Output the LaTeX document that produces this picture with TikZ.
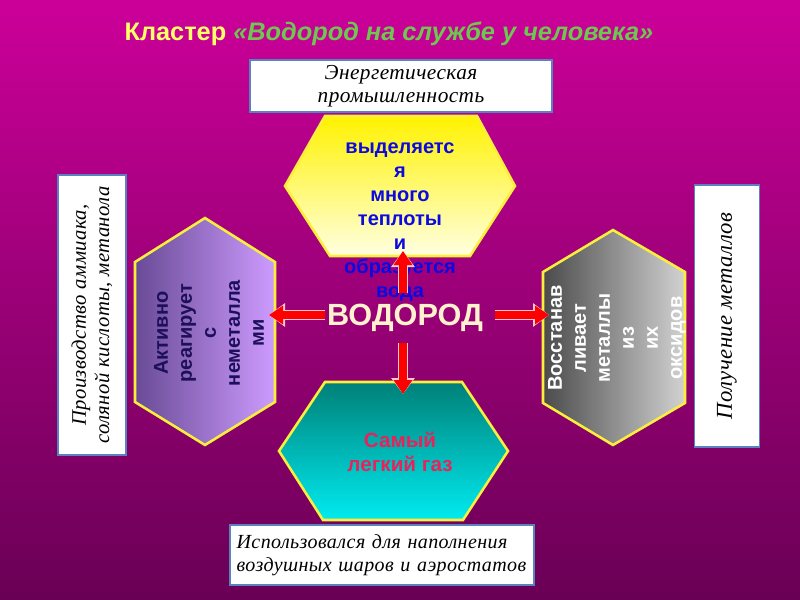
\documentclass[tikz,border=0pt]{standalone}
\usepackage{fontspec}
\setmainfont{Liberation Serif}
\setsansfont{Liberation Sans}
\newfontfamily\tmsit[LetterSpace=2]{Liberation Serif}
\usetikzlibrary{arrows.meta}
\definecolor{bgtop}{RGB}{204,0,153}
\definecolor{bgbot}{RGB}{105,0,85}
\definecolor{hexyel}{RGB}{250,240,60}
\definecolor{ttlyel}{RGB}{255,255,102}
\definecolor{ttlgrn}{RGB}{110,200,80}
\definecolor{txtblue}{RGB}{10,10,225}
\definecolor{txtnavy}{RGB}{30,15,90}
\definecolor{txtpink}{RGB}{230,35,90}
\definecolor{cream}{RGB}{255,242,204}
\definecolor{boxline}{RGB}{90,130,190}
\definecolor{arrred}{RGB}{255,0,0}
\definecolor{arrrim}{RGB}{255,200,200}
\definecolor{purL}{RGB}{105,75,150}
\definecolor{purR}{RGB}{205,155,255}
\definecolor{gryL}{RGB}{75,75,75}
\definecolor{gryR}{RGB}{210,210,210}
\definecolor{tealT}{RGB}{0,128,120}
\definecolor{tealB}{RGB}{0,235,240}
\definecolor{yelT}{RGB}{255,242,0}
\definecolor{yelB}{RGB}{255,255,225}
\tikzset{
  hexedge/.style={draw=hexyel, line width=1.9pt, line join=miter},
  hextext/.style={font=\sffamily\bfseries\fontsize{15}{18}\selectfont, align=center, inner sep=0pt},
  infobox/.style={draw=boxline, line width=1.1pt, fill=white, inner sep=2pt, align=center},
  arrrim/.style={draw=arrrim, line width=8pt, -{Triangle[length=12pt,width=17pt]}},
  arrcore/.style={draw=arrred, line width=6pt, -{Triangle[length=10.5pt,width=13.5pt]}}
}
\begin{document}
\begin{tikzpicture}[x=0.75pt,y=-0.75pt]
\useasboundingbox (0,0) rectangle (800,600);
\shade[top color=bgtop, bottom color=bgbot] (0,0) rectangle (800,600);

% title
\node[font=\sffamily\bfseries\fontsize{19}{22}\selectfont, inner sep=0pt] (title) at (389,34)
  {\textcolor{ttlyel}{Кластер} \textcolor{ttlgrn}{\itshape «Водород на службе у человека»}};

% top box
\node[infobox, minimum width=226.5pt, minimum height=39pt,
  font=\tmsit\itshape\fontsize{16}{18}\selectfont] (topbox) at (401,86)
  {\raisebox{-4pt}{\shortstack{Энергетическая\\[3.5pt]промышленность}}};

% top hexagon
\shade[top color=yelT, bottom color=yelB]
  (285,186) -- (325,116) -- (477,116) -- (515,186) -- (470,256) -- (330,256) -- cycle;
\draw[hexedge] (285,186) -- (325,116) -- (477,116) -- (515,186) -- (470,256) -- (330,256) -- cycle;
\node[hextext, text=txtblue] (thex) at (400,222)
  {выделяетс\\я\\ много\\теплоты\\и\\образуется\\вода};

% left hexagon
\shade[left color=purL, right color=purR]
  (205,218) -- (275,262) -- (275,402) -- (205,445) -- (135,402) -- (135,262) -- cycle;
\draw[hexedge] (205,218) -- (275,262) -- (275,402) -- (205,445) -- (135,402) -- (135,262) -- cycle;
\node[hextext, text=txtnavy, rotate=90] (lhex) at (209,333)
  {Активно\\реагирует\\с\\неметалла\\ми};

% right hexagon
\shade[left color=gryL, right color=gryR]
  (613,230) -- (685,272) -- (685,403) -- (613,445) -- (543,403) -- (543,272) -- cycle;
\draw[hexedge] (613,230) -- (685,272) -- (685,403) -- (613,445) -- (543,403) -- (543,272) -- cycle;
\node[hextext, text=white, rotate=90] (rhex) at (617,338)
  {Восстанав\\ливает\\металлы\\из\\их\\оксидов};

% bottom hexagon
\shade[top color=tealT, bottom color=tealB]
  (279,451) -- (325,382) -- (462,382) -- (508,451) -- (463,520) -- (323,520) -- cycle;
\draw[hexedge] (279,451) -- (325,382) -- (462,382) -- (508,451) -- (463,520) -- (323,520) -- cycle;
\node[hextext, text=txtpink, font=\sffamily\bfseries\fontsize{15.5}{18}\selectfont] (bhex) at (400,452) {Самый\\легкий газ};

% side boxes
\node[infobox, rotate=90, minimum width=210pt, minimum height=51pt,
  font=\tmsit\itshape\fontsize{15.5}{17.5}\selectfont] (lbox) at (92,315)
  {Производство аммиака,\\соляной кислоты, метанола};
\node[infobox, rotate=90, minimum width=196.5pt, minimum height=48.75pt,
  font=\tmsit\itshape\fontsize{17}{19}\selectfont] (rbox) at (727,316)
  {Получение металлов};

% bottom box
\node[infobox, align=left, minimum width=228pt, minimum height=45pt, text width=218pt,
  font=\tmsit\itshape\fontsize{15}{17.5}\selectfont] (bbox) at (382,555)
  {Использовался для наполнения\\воздушных шаров и аэростатов};

% centre
\node[font=\sffamily\bfseries\fontsize{23}{26}\selectfont, text=cream, inner sep=0pt] (vod) at (405,318) {ВОДОРОД};

% arrow end points
\coordinate (uS) at (403,293);
\coordinate (uE) at (403,251);
\coordinate (lS) at (325,315);
\coordinate (lE) at (269,315);
\coordinate (rS) at (495,315);
\coordinate (rE) at (549,315);
\coordinate (dS) at (403,343);
\coordinate (dE) at (403,394);
\foreach \s/\e in {uS/uE, lS/lE, rS/rE, dS/dE}{
  \draw[arrrim] (\s) -- (\e);
  \draw[arrcore] (\s) -- (\e);
}
\end{tikzpicture}
\end{document}
